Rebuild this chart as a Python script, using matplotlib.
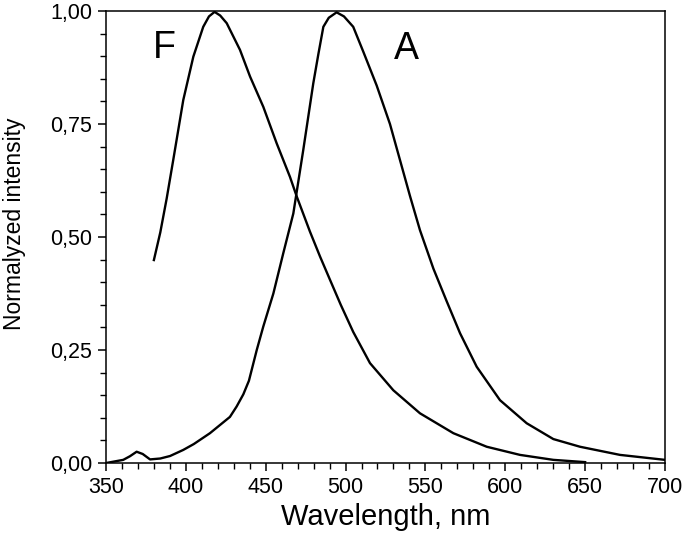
import matplotlib
matplotlib.use("Agg")
import matplotlib.pyplot as plt
from matplotlib.ticker import MultipleLocator, FuncFormatter

plt.rcParams['font.family'] = ['Liberation Sans', 'DejaVu Sans']

# curve F
f_wl = [380, 384, 388, 392.1, 398.4, 404.7, 410.9, 414.5, 418, 421.5, 425.6, 433.9, 440.2,
        448.5, 456.9, 465.2, 469.4, 477.7, 484, 490.3, 497, 504.8, 515.3, 529.9,
        546.6, 567.5, 588.4, 609.2, 630.1, 650]
f_int = [0.449, 0.51, 0.585, 0.670, 0.803, 0.899, 0.965, 0.988, 0.998, 0.99, 0.973, 0.914, 0.855,
         0.788, 0.707, 0.633, 0.59, 0.512, 0.457, 0.405, 0.35, 0.29, 0.221, 0.161,
         0.110, 0.066, 0.036, 0.018, 0.007, 0.002]

# curve A
a_wl = [350, 360.8, 365, 369.2, 373, 377.6, 384, 390.1, 398.4, 405, 415.1, 427.6, 431.8,
        436, 439.5, 444.4, 448.5, 454.8, 461, 467.3, 473.5, 479.8, 483, 486.1, 489.5, 494.4, 499,
        504.8, 511.1, 519.5, 527.8, 534.1, 540.4, 546.6, 555, 563.3, 571.7, 582.1,
        596.7, 613.4, 630.1, 646.8, 671.8, 700]
a_int = [0.0, 0.007, 0.015, 0.025, 0.02, 0.008, 0.01, 0.0155, 0.029, 0.042, 0.066, 0.102, 0.125,
         0.152, 0.182, 0.25, 0.302, 0.375, 0.464, 0.552, 0.692, 0.840, 0.905, 0.965, 0.985, 0.997, 0.988,
         0.965, 0.91, 0.835, 0.75, 0.67, 0.59, 0.515, 0.43, 0.358, 0.287, 0.213,
         0.139, 0.088, 0.053, 0.036, 0.018, 0.007]

fig = plt.figure(figsize=(6.85, 5.49), dpi=100)
ax = fig.add_axes([0.1547, 0.1566, 0.8161, 0.8234])

ax.plot(f_wl, f_int, color='black', lw=1.7)
ax.plot(a_wl, a_int, color='black', lw=1.7)

ax.set_xlim(350, 700)
ax.set_ylim(0, 1.0)
ax.xaxis.set_major_locator(MultipleLocator(50))
ax.xaxis.set_minor_locator(MultipleLocator(10))
ax.yaxis.set_major_locator(MultipleLocator(0.25))
ax.yaxis.set_minor_locator(MultipleLocator(0.05))
ax.yaxis.set_major_formatter(FuncFormatter(lambda v, p: f"{v:.2f}".replace('.', ',')))
ax.tick_params(which='major', direction='out', length=6, width=1.1, labelsize=15.5, pad=4)
ax.tick_params(which='minor', direction='out', length=4, width=1.0)
for s in ax.spines.values():
    s.set_linewidth(1.1)

ax.set_xlabel("Wavelength, nm", fontsize=21, labelpad=4)
ax.set_ylabel("Normalyzed intensity", fontsize=16.5)
ax.yaxis.set_label_coords(-0.143, 0.529)

ax.text(386.3, 0.918, "F", fontsize=27, ha='center', va='center')
ax.text(538.2, 0.916, "A", fontsize=27, ha='center', va='center')

fig.savefig("out.png", dpi=100)
